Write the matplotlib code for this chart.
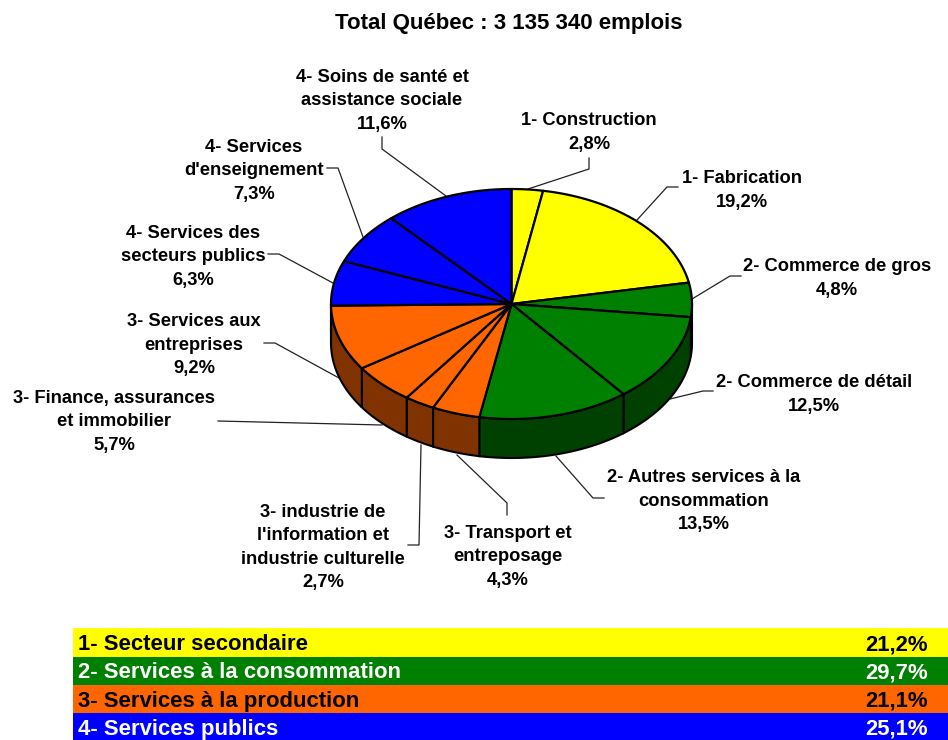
"""
Emploi par secteur au Quebec : pie with a fake 3D side and a colored legend table
"""

import numpy as np
import matplotlib.pyplot as plt

plt.rcParams['font.family'] = ['Liberation Sans', 'DejaVu Sans']

title = "Total Québec : 3 135 340 emplois"

slice_labels = [
    "1- Construction",
    "1- Fabrication",
    "2- Commerce de gros",
    "2- Commerce de détail",
    "2- Autres services à la\nconsommation",
    "3- Transport et\nentreposage",
    "3- industrie de\nl'information et\nindustrie culturelle",
    "3- Finance, assurances\net immobilier",
    "3- Services aux\nentreprises",
    "4- Services des\nsecteurs publics",
    "4- Services\nd'enseignement",
    "4- Soins de santé et\nassistance sociale",
]
slice_values = [2.8, 19.2, 4.8, 12.5, 13.5, 4.3, 2.7, 5.7, 9.2, 6.3, 7.3, 11.6]
slice_groups = [0, 0, 1, 1, 1, 2, 2, 2, 2, 3, 3, 3]

group_labels = [
    "1- Secteur secondaire",
    "2- Services à la consommation",
    "3- Services à la production",
    "4- Services publics",
]
group_values = [21.2, 29.7, 21.1, 25.1]

# styles, one per group
top_colors = ["#ffff00", "#008000", "#ff6600", "#0000ff"]
side_colors = ["#808000", "#004000", "#803300", "#000080"]
table_text_colors = ["black", "white", "black", "white"]

# layout in pixels of the 948x740 picture
center_x, center_y = 511.5, 304
radius_x, radius_y = 180.5, 115
depth = 39

# center x and vertical center of each label block
label_pos = [
    (589, 132.5), (742, 190.5), (837, 278.5), (814, 394.5), (704, 501.5), (508, 556.5),
    (323, 547.5), (114, 422), (194, 345.5), (193, 256.5), (254, 170.5), (382, 100.5),
]
# leader lines, from the pie out to the label
leaders = [
    [(528, 189), (589, 169), (589, 158)],
    [(637, 220), (667, 187), (678, 187)],
    [(692, 299), (730, 276), (741, 276)],
    [(670, 399), (703, 391), (713, 391)],
    [(556, 456), (593, 498), (604, 498)],
    [(457, 455), (507, 503), (507, 515)],
    [(421, 445), (419, 545), (408, 545)],
    [(382, 425), (218, 421)],
    [(339, 378), (275, 343), (264, 343)],
    [(333, 283), (279, 254), (268, 254)],
    [(363, 237), (338, 168), (327, 168)],
    [(446, 196), (382, 149), (382, 137)],
]


def ellipse_point(angle, drop=0):
    # angle in degrees, clockwise from 12 o'clock
    rad = np.radians(angle)
    return center_x + radius_x * np.sin(rad), center_y - radius_y * np.cos(rad) + drop


def percent(value):
    return f"{value:.1f}%".replace(".", ",")


fig = plt.figure(figsize=(9.48, 7.4), dpi=100)
ax = fig.add_axes([0, 0, 1, 1])
ax.set_xlim(0, 948)
ax.set_ylim(740, 0)
ax.axis("off")

edges = np.cumsum([0] + slice_values) / sum(slice_values) * 360

# side wall, only the front half of the ellipse shows
for i in range(len(slice_values)):
    start = max(edges[i], 90)
    end = min(edges[i + 1], 270)
    if end <= start:
        continue
    arc = np.linspace(start, end, 60)
    top_x, top_y = ellipse_point(arc)
    low_x, low_y = ellipse_point(arc[::-1], depth)
    ax.fill(np.r_[top_x, low_x], np.r_[top_y, low_y],
            facecolor=side_colors[slice_groups[i]], edgecolor="black", linewidth=1.5, zorder=2)

# top face
for i in range(len(slice_values)):
    arc = np.linspace(edges[i], edges[i + 1], 80)
    arc_x, arc_y = ellipse_point(arc)
    ax.fill(np.r_[center_x, arc_x], np.r_[center_y, arc_y],
            facecolor=top_colors[slice_groups[i]], edgecolor="black", linewidth=1.6,
            joinstyle="round", zorder=3)

# leader lines
for points in leaders:
    xs, ys = zip(*points)
    ax.plot(xs, ys, color="#222222", linewidth=0.9, zorder=1)

# slice labels
for label, value, (x, y) in zip(slice_labels, slice_values, label_pos):
    ax.text(x, y, f"{label}\n{percent(value)}", ha="center", va="center", fontsize=13.2,
            fontweight="bold", linespacing=1.5, color="black", zorder=4)

ax.text(508.5, 24, title, ha="center", va="center", fontsize=16, fontweight="bold")

# table under the pie
row_tops = [628, 657, 685, 713, 741]
for i, (label, value) in enumerate(zip(group_labels, group_values)):
    ax.fill_between([73, 948], row_tops[i], row_tops[i + 1], color=top_colors[i], linewidth=0, zorder=1)
    mid = (row_tops[i] + row_tops[i + 1]) / 2 + 2
    ax.text(78, mid, label, ha="left", va="center", fontsize=15.9, fontweight="bold",
            color=table_text_colors[i], zorder=2)
    ax.text(928, mid, percent(value), ha="right", va="center", fontsize=15.9, fontweight="bold",
            color=table_text_colors[i], zorder=2)

fig.savefig("out.png", dpi=100)
